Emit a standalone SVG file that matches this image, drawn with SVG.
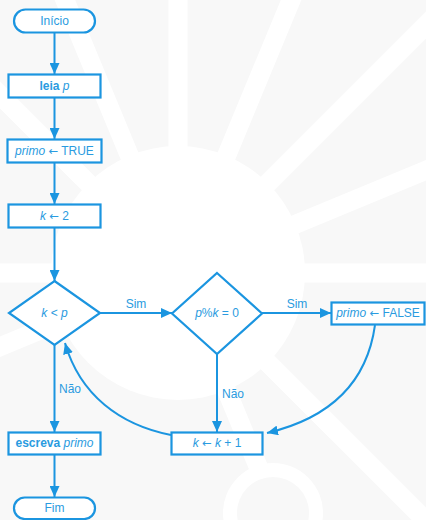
<svg xmlns="http://www.w3.org/2000/svg" width="426" height="520" viewBox="0 0 426 520">
<style>
.bg{fill:#f8f8f8}
.sp{stroke:#ffffff;stroke-width:19;fill:none}
.n{fill:#ffffff;stroke:#1b95e0;stroke-width:2.2}
.c{fill:none;stroke:#1b95e0;stroke-width:2}
text{font-family:"Liberation Sans","DejaVu Sans",sans-serif;font-size:12px;fill:#2a9be0;text-anchor:middle;dominant-baseline:central}
.i{font-style:italic}
.b{font-weight:bold}
.l{text-anchor:start}
.a{font-family:"DejaVu Sans",sans-serif;font-size:11.5px}
</style>
<defs>
<marker id="ah" markerUnits="userSpaceOnUse" markerWidth="12" markerHeight="10" refX="11" refY="5" orient="auto">
<path d="M0,0 L11,5 L0,10 Z" fill="#1b95e0"/>
</marker>
</defs>
<g id="background">
<rect class="bg" x="0" y="0" width="426" height="520"/>
<g transform="translate(178,273)">
<line class="sp" x1="0" y1="0" x2="700" y2="0"/>
<line class="sp" x1="0" y1="0" x2="700" y2="0" transform="rotate(-22.5)"/>
<line class="sp" x1="0" y1="0" x2="700" y2="0" transform="rotate(-45)"/>
<line class="sp" x1="0" y1="0" x2="700" y2="0" transform="rotate(-67.5)"/>
<line class="sp" x1="0" y1="0" x2="700" y2="0" transform="rotate(-90)"/>
<line class="sp" x1="0" y1="0" x2="700" y2="0" transform="rotate(-112.5)"/>
<line class="sp" x1="0" y1="0" x2="700" y2="0" transform="rotate(-135)"/>
<line class="sp" x1="0" y1="0" x2="700" y2="0" transform="rotate(180)"/>
<line class="sp" x1="0" y1="0" x2="700" y2="0" transform="rotate(157.5)"/>
<line class="sp" x1="0" y1="0" x2="700" y2="0" transform="rotate(67.5)"/>
<line class="sp" x1="0" y1="0" x2="700" y2="0" transform="rotate(45)"/>
<circle cx="0" cy="0" r="127" fill="#ffffff"/>
</g>
<circle cx="273" cy="513" r="50" fill="#ffffff"/>
<circle cx="273" cy="513" r="36" fill="#f8f8f8"/>
</g>
<g id="connectors">
<line class="c" x1="54.5" y1="32" x2="54.5" y2="74" marker-end="url(#ah)"/>
<line class="c" x1="54.5" y1="98" x2="54.5" y2="139" marker-end="url(#ah)"/>
<line class="c" x1="54.5" y1="163" x2="54.5" y2="204" marker-end="url(#ah)"/>
<line class="c" x1="54.5" y1="228" x2="54.5" y2="281" marker-end="url(#ah)"/>
<line class="c" x1="100" y1="313" x2="172" y2="313" marker-end="url(#ah)"/>
<text x="136" y="304">Sim</text>
<line class="c" x1="262" y1="313" x2="331" y2="313" marker-end="url(#ah)"/>
<text x="297" y="304">Sim</text>
<line class="c" x1="217" y1="354" x2="217" y2="432" marker-end="url(#ah)"/>
<text class="l" x="222" y="394">Não</text>
<path class="c" d="M375,325 C366,390 322,420 267,433" marker-end="url(#ah)"/>
<path class="c" d="M171,435 C120,425 80,395 65,343" marker-end="url(#ah)"/>
<line class="c" x1="54.5" y1="345" x2="54.5" y2="432" marker-end="url(#ah)"/>
<text class="l" x="59" y="389">Não</text>
<line class="c" x1="54.5" y1="455" x2="54.5" y2="497" marker-end="url(#ah)"/>
</g>
<g id="inicio">
<rect class="n" x="14" y="9.5" width="81" height="23" rx="11.5"/>
<text x="54.5" y="21">Início</text>
</g>
<g id="leia">
<rect class="n" x="8.5" y="74.5" width="92" height="23"/>
<text x="54.5" y="86"><tspan class="b">leia</tspan> <tspan class="i">p</tspan></text>
</g>
<g id="primo-true">
<rect class="n" x="7.5" y="139.5" width="94" height="23"/>
<text x="54.5" y="151"><tspan class="i">primo</tspan> <tspan class="a">←</tspan> TRUE</text>
</g>
<g id="k-2">
<rect class="n" x="8.5" y="204.5" width="92" height="23"/>
<text x="54.5" y="216"><tspan class="i">k</tspan> <tspan class="a">←</tspan> 2</text>
</g>
<g id="k-lt-p">
<polygon class="n" points="54.5,281 100,313 54.5,345 9,313"/>
<text x="54.5" y="313"><tspan class="i">k</tspan> &lt; <tspan class="i">p</tspan></text>
</g>
<g id="mod">
<polygon class="n" points="217,273 262,313.5 217,354 172,313.5"/>
<text x="217" y="313"><tspan class="i">p</tspan>%<tspan class="i">k</tspan> = 0</text>
</g>
<g id="primo-false">
<rect class="n" x="331.5" y="302.5" width="93" height="22"/>
<text x="378" y="313"><tspan class="i">primo</tspan> <tspan class="a">←</tspan> FALSE</text>
</g>
<g id="k-inc">
<rect class="n" x="171.5" y="432.5" width="91" height="22"/>
<text x="217" y="443"><tspan class="i">k</tspan> <tspan class="a">←</tspan> <tspan class="i">k</tspan> + 1</text>
</g>
<g id="escreva">
<rect class="n" x="8.5" y="432.5" width="92" height="22"/>
<text x="54.5" y="443"><tspan class="b">escreva</tspan> <tspan class="i">primo</tspan></text>
</g>
<g id="fim">
<rect class="n" x="14" y="497.5" width="81" height="21.5" rx="10.75"/>
<text x="54.5" y="508">Fim</text>
</g>
</svg>
